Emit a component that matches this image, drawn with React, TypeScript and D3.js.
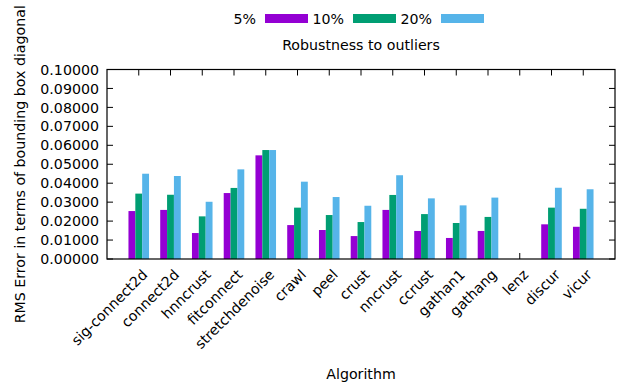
import React from "react";
import * as d3 from "d3";

const categories = ["sig-connect2d","connect2d","hnncrust","fitconnect","stretchdenoise","crawl","peel","crust","nncrust","ccrust","gathan1","gathang","lenz","discur","vicur"];
const seriesNames = ["5%","10%","20%"];
const s5 = [0.0253,0.0259,0.0137,0.0348,0.0547,0.0179,0.0153,0.0121,0.0259,0.0148,0.0111,0.0148,0,0.0183,0.0170];
const s10 = [0.0345,0.0339,0.0225,0.0375,0.0575,0.0271,0.0232,0.0195,0.0338,0.0237,0.0190,0.0222,0,0.0271,0.0265];
const s20 = [0.0450,0.0438,0.0302,0.0473,0.0575,0.0408,0.0327,0.0281,0.0442,0.0320,0.0283,0.0324,0,0.0376,0.0368];
const yTicks = [0,0.01,0.02,0.03,0.04,0.05,0.06,0.07,0.08,0.09,0.10];
const colors = ["#9400d3","#009e73","#56b4e9"];

const W = 621, H = 385;
const L = 107, R = 615, T = 69.5, B = 259;
const FONT = "DejaVu Sans";
const FS = 14.2;

export default function App() {
  const x = d3.scaleLinear().domain([-1, categories.length]).range([L, R]);
  const y = d3.scaleLinear().domain([0, 0.1]).range([B, T]);
  const step = x(1) - x(0);
  const bw = step * 0.216;
  const series = [s5, s10, s20];
  const tl = 6;
  return (
    <svg width={W} height={H} style={{ position: "absolute", left: 0, top: 0, background: "#fff" }} fontFamily={FONT} fontSize={FS}>
      <rect x={0} y={0} width={W} height={H} fill="#fff" />
      {yTicks.map((t, i) => (
        <g key={"y" + i}>
          <line x1={L} x2={L + tl} y1={y(t)} y2={y(t)} stroke="#000" strokeWidth={1} />
          <line x1={R} x2={R - tl} y1={y(t)} y2={y(t)} stroke="#000" strokeWidth={1} />
          <text x={L - 8} y={y(t)} dy="0.36em" textAnchor="end" fill="#000">{d3.format(".5f")(t)}</text>
        </g>
      ))}
      {categories.map((c, i) => (
        <g key={"x" + i}>
          <line x1={x(i)} x2={x(i)} y1={B} y2={B - tl} stroke="#000" strokeWidth={1} />
          <line x1={x(i)} x2={x(i)} y1={T} y2={T + tl} stroke="#000" strokeWidth={1} />
          <text transform={`translate(${x(i) + 2.5},${B + 9.5}) rotate(-45)`} textAnchor="end" dy="0.7em" fill="#000">{c}</text>
        </g>
      ))}
      {series.map((s, si) => (
        <g key={"s" + si} fill={colors[si]}>
          {s.map((v, i) => v > 0 ? (
            <rect key={i} x={x(i) + (si - 1.5) * bw} y={y(v)} width={bw} height={B - y(v)} />
          ) : null)}
        </g>
      ))}
      <rect x={L} y={T} width={R - L} height={B - T} fill="none" stroke="#000" strokeWidth={1.2} />
      {seriesNames.map((n, i) => (
        <g key={"l" + i}>
          <text x={256 + i * 88} y={24} textAnchor="end" fill="#000">{n}</text>
          <rect x={265 + i * 88} y={14} width={43} height={9} fill={colors[i]} />
        </g>
      ))}
      <text x={361} y={50} textAnchor="middle" fill="#000">Robustness to outliers</text>
      <text x={361} y={379} textAnchor="middle" fill="#000">Algorithm</text>
      <text transform={`translate(25,${(T + B) / 2}) rotate(-90)`} textAnchor="middle" fill="#000">RMS Error in terms of bounding box diagonal</text>
    </svg>
  );
}
